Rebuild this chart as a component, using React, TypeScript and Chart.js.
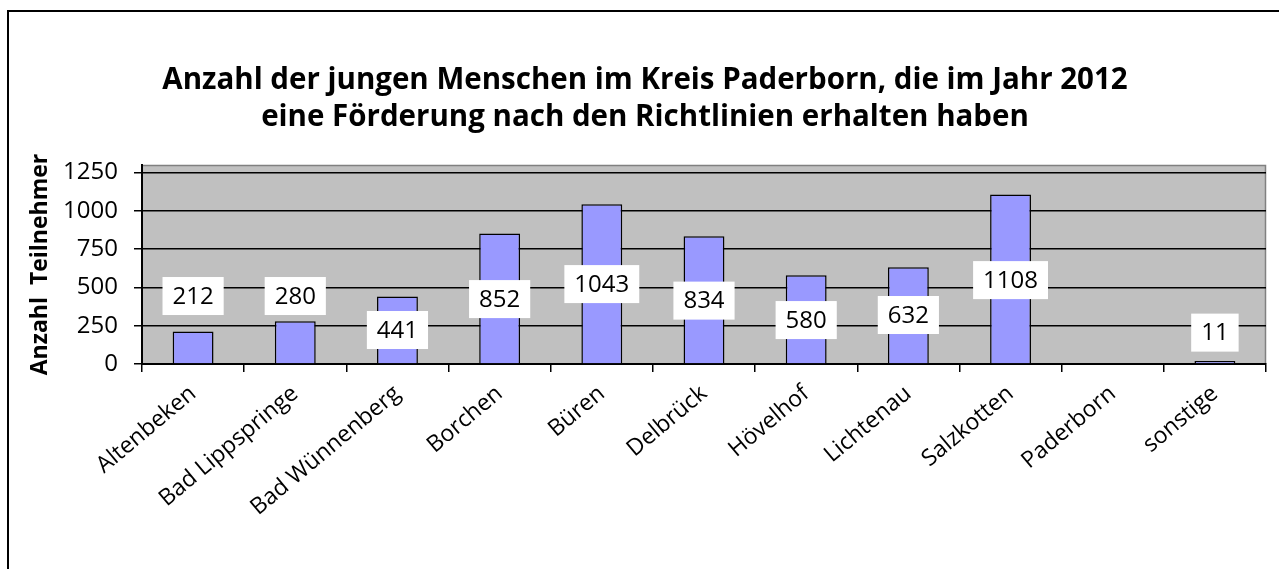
import React, { useEffect, useRef } from "react";
import { Chart, registerables } from "chart.js";

Chart.register(...registerables);

// ---- data ----
const categories = [
  "Altenbeken",
  "Bad Lippspringe",
  "Bad Wünnenberg",
  "Borchen",
  "Büren",
  "Delbrück",
  "Hövelhof",
  "Lichtenau",
  "Salzkotten",
  "Paderborn",
  "sonstige",
];
const participants: (number | null)[] = [212, 280, 441, 852, 1043, 834, 580, 632, 1108, null, 11];
const yTickValues = [0, 250, 500, 750, 1000, 1250];
const titleLines = [
  "Anzahl der jungen Menschen im Kreis Paderborn, die im Jahr 2012",
  "eine Förderung nach den Richtlinien erhalten haben",
];
const yAxisTitle = "Anzahl  Teilnehmer";

// ---- presentation ----
// height (in axis units) at which each value box was placed in the original
const labelAnchors: (number | null)[] = [444, 444, 222, 424, 522, 414, 287, 320, 548, null, 205];
const FONT = '"Open Sans", "DejaVu Sans", sans-serif';

const framePlugin = {
  id: "frame",
  beforeDraw(chart: any) {
    const { ctx, chartArea: a } = chart;
    ctx.save();
    ctx.fillStyle = "#ffffff";
    ctx.fillRect(0, 0, chart.width, chart.height);
    ctx.fillStyle = "#C0C0C0";
    ctx.fillRect(a.left, a.top, a.right - a.left, a.bottom - a.top);
    ctx.strokeStyle = "#808080";
    ctx.lineWidth = 1.5;
    ctx.beginPath();
    ctx.moveTo(a.left, a.top + 0.5);
    ctx.lineTo(a.right - 0.5, a.top + 0.5);
    ctx.lineTo(a.right - 0.5, a.bottom);
    ctx.stroke();
    ctx.strokeStyle = "#000000";
    ctx.lineWidth = 2;
    ctx.beginPath();
    ctx.moveTo(8, chart.height);
    ctx.lineTo(8, 11);
    ctx.lineTo(chart.width, 11);
    ctx.stroke();
    ctx.restore();
  },
};

const valueLabelPlugin = {
  id: "valueLabels",
  afterDatasetsDraw(chart: any) {
    const { ctx } = chart;
    const xs = chart.scales.x;
    const ys = chart.scales.y;
    ctx.save();
    ctx.font = `24px ${FONT}`;
    ctx.textAlign = "center";
    ctx.textBaseline = "middle";
    participants.forEach((v, i) => {
      const at = labelAnchors[i];
      if (v == null || at == null) return;
      const text = String(v);
      const w = ctx.measureText(text).width + 20;
      const h = 38;
      const cx = xs.getPixelForValue(i);
      const cy = ys.getPixelForValue(at);
      ctx.fillStyle = "#ffffff";
      ctx.fillRect(cx - w / 2, cy - h / 2, w, h);
      ctx.fillStyle = "#000000";
      ctx.fillText(text, cx, cy + 1);
    });
    ctx.restore();
  },
};

export default function App() {
  const ref = useRef<HTMLCanvasElement>(null);

  useEffect(() => {
    let chart: Chart | null = null;
    let cancelled = false;
    const make = () => {
      if (cancelled || !ref.current) return;
      chart = new Chart(ref.current, {
        type: "bar",
        data: {
          labels: categories,
          datasets: [
            {
              data: participants as any,
              backgroundColor: "#9999FF",
              borderColor: "#000000",
              borderWidth: 1.5,
              categoryPercentage: 1,
              barPercentage: 0.4,
              minBarLength: 3,
            },
          ],
        },
        options: {
          responsive: false,
          animation: false,
          layout: { padding: { left: 24, right: 13, top: 0, bottom: 0 } },
          plugins: {
            legend: { display: false },
            tooltip: { enabled: false },
            title: {
              display: true,
              text: titleLines,
              color: "#000000",
              font: { family: FONT, size: 29.5, weight: "bold", lineHeight: 1.254 },
              padding: { top: 62, bottom: 29 },
            },
          },
          scales: {
            x: {
              grid: {
                display: true,
                drawOnChartArea: false,
                drawTicks: true,
                tickLength: 8,
                color: "#000000",
                lineWidth: 1.5,
                offset: true,
              },
              border: { color: "#000000", width: 2 },
              ticks: {
                color: "#000000",
                font: { family: FONT, size: 23 },
                minRotation: 40,
                maxRotation: 40,
                autoSkip: false,
                padding: 8,
              },
              afterFit(scale: any) {
                scale.height = 205;
              },
            },
            y: {
              min: 0,
              max: 1300,
              grid: {
                color: "#000000",
                lineWidth: 1.5,
                tickLength: 8,
              },
              border: { color: "#000000", width: 2 },
              afterBuildTicks(scale: any) {
                scale.ticks = yTickValues.map((v) => ({ value: v }));
              },
              ticks: {
                color: "#000000",
                font: { family: FONT, size: 24 },
                padding: 16,
                includeBounds: false,
                callback: (v: any) => String(v),
              },
              title: {
                display: true,
                text: yAxisTitle,
                color: "#000000",
                font: { family: FONT, size: 23, weight: "bold", lineHeight: 1.2 },
                padding: { top: 3, bottom: 0 },
              },
              afterFit(scale: any) {
                scale.width = 118;
              },
            },
          },
        },
        plugins: [framePlugin, valueLabelPlugin],
      });
    };
    const fontsReady = (document as any).fonts
      ? Promise.all([
          (document as any).fonts.load(`24px "Open Sans"`),
          (document as any).fonts.load(`bold 29px "Open Sans"`),
        ]).catch(() => null)
      : Promise.resolve(null);
    fontsReady.then(make);
    return () => {
      cancelled = true;
      if (chart) chart.destroy();
    };
  }, []);

  return (
    <div style={{ position: "absolute", left: 0, top: 0, width: 1279, height: 569, background: "#fff" }}>
      <canvas ref={ref} width={1279} height={569} />
    </div>
  );
}
